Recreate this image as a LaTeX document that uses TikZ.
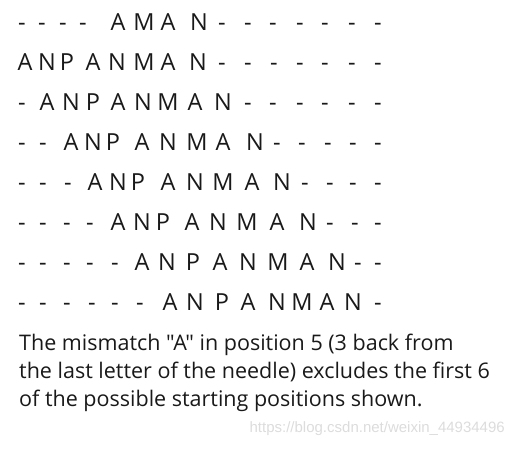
\documentclass[tikz,border=0pt]{standalone}
\usepackage{fontspec}
\newfontfamily\ofont{Open Sans}
\newfontfamily\wmfont{Liberation Sans}
\definecolor{ink}{RGB}{25,25,25}
\definecolor{wm}{RGB}{220,220,220}
\begin{document}
\begin{tikzpicture}[x=1pt,y=-1pt,
  ch/.style={anchor=base,inner sep=0pt,text=ink,font=\ofont\fontsize{23.5}{23.5}\selectfont},
  body/.style={anchor=base west,inner sep=0pt,text=ink,font=\ofont\fontsize{21.5}{21.5}\selectfont}]
\useasboundingbox (0,0) rectangle (515,449);
% row 1
\foreach \x/\c [count=\i] in {22/-,42/-,63/-,83/-,118/A,144/M,168/A,199/N,222/-,248/-,273/-,300/-,325/-,352/-,378/-}
  \node[ch] (ra\i) at (\x,31) {\c};
% row 2
\foreach \x/\c [count=\i] in {25/A,47/N,67/P,93/A,117/N,144/M,168/A,198/N,222/-,248/-,274/-,300/-,325/-,352/-,378/-}
  \node[ch] (rb\i) at (\x,71) {\c};
% row 3
\foreach \x/\c [count=\i] in {22/-,47/A,71/N,93/P,118/A,143/N,168/M,195/A,223/N,248/-,273/-,300/-,325/-,352/-,378/-}
  \node[ch] (rc\i) at (\x,111) {\c};
% row 4
\foreach \x/\c [count=\i] in {22/-,43/-,71/A,93/N,113/P,142/A,168/N,197/M,223/A,255/N,277/-,302/-,328/-,353/-,378/-}
  \node[ch] (rd\i) at (\x,151) {\c};
% row 5
\foreach \x/\c [count=\i] in {22/-,43/-,68/-,95/A,118/N,138/P,168/A,195/N,223/M,252/A,282/N,305/-,330/-,353/-,378/-}
  \node[ch] (re\i) at (\x,191) {\c};
% row 6
\foreach \x/\c [count=\i] in {22/-,43/-,67/-,90/-,118/A,142/N,163/P,192/A,218/N,247/M,277/A,308/N,330/-,355/-,378/-}
  \node[ch] (rf\i) at (\x,231) {\c};
% row 7
\foreach \x/\c [count=\i] in {22/-,43/-,67/-,90/-,115/-,142/A,167/N,193/P,220/A,248/N,278/M,307/A,337/N,358/-,378/-}
  \node[ch] (rg\i) at (\x,271) {\c};
% row 8
\foreach \x/\c [count=\i] in {22/-,43/-,67/-,92/-,115/-,140/-,170/A,195/N,222/P,248/A,277/N,302/M,327/A,353/N,378/-}
  \node[ch] (rh\i) at (\x,311) {\c};
% caption
\node[body] (l1) at (19,351) {The mismatch "A" in position 5 (3 back from};
\node[body] (l2) at (19,379) {the last letter of the needle) excludes the first 6};
\node[body] (l3) at (19,407) {of the possible starting positions shown.};
% watermark
\node[anchor=base east,inner sep=0pt,text=wm,font=\wmfont\fontsize{15}{15}\selectfont] (wmk) at (505,433) {https://blog.csdn.net/weixin\_44934496};
\end{tikzpicture}
\end{document}
